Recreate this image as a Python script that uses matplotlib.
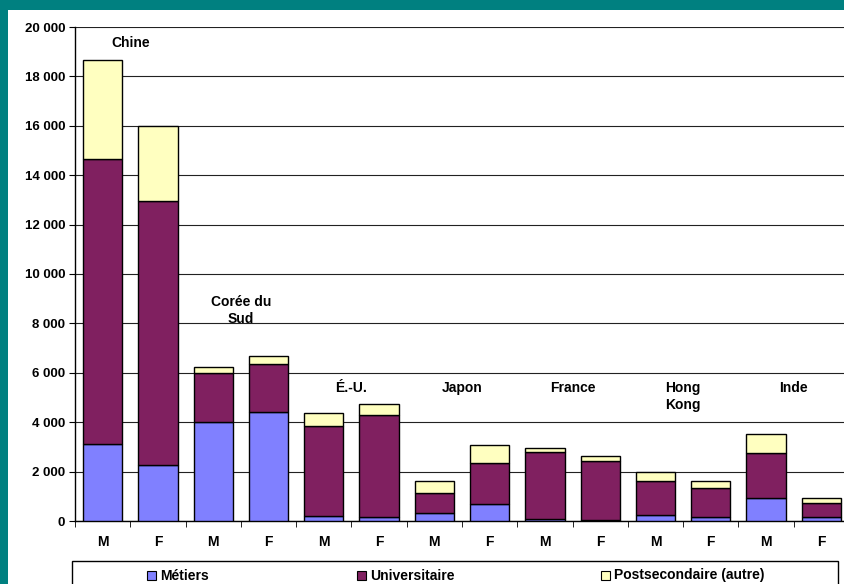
import matplotlib
matplotlib.use('Agg')
import matplotlib.pyplot as plt
from matplotlib import ticker
from matplotlib.patches import Rectangle
import numpy as np

plt.rcParams['font.family'] = ['Liberation Sans', 'DejaVu Sans']
plt.rcParams['font.weight'] = 'bold'

# M / F pour chaque pays
sexes = ['M', 'F'] * 7
pays = ['Chine', 'Corée du\nSud', 'É.-U.', 'Japon', 'France', 'Hong\nKong', 'Inde']

metiers = [3100, 2280, 4000, 4400, 215, 160, 310, 675, 70, 40, 255, 160, 930, 175]
universitaire = [11550, 10670, 1980, 1960, 3635, 4130, 810, 1675, 2710, 2380, 1350, 1165, 1810, 565]
autre = [4000, 3050, 270, 320, 535, 435, 510, 740, 190, 200, 365, 305, 795, 190]

series = ['Métiers', 'Universitaire', 'Postsecondaire (autre)']
colors = ['#8080FF', '#802060', '#FFFFC0']

W, H = 845, 584
fig = plt.figure(figsize=(W / 100, H / 100), dpi=100)
fig.patch.set_facecolor('#008080')
fig.patches.append(Rectangle((8 / W, 0), 1, (H - 10) / H, transform=fig.transFigure,
                             facecolor='white', edgecolor='none', zorder=-5))

ax = fig.add_axes([75 / W, (H - 521) / H, (849 - 75) / W, (521 - 27) / H])
ax.set_facecolor('none')
ax.set_zorder(2)

x = np.arange(len(sexes))
bw = 0.71
b1 = np.array(metiers)
b2 = b1 + np.array(universitaire)
ax.bar(x, metiers, bw, color=colors[0], edgecolor='black', linewidth=1, zorder=3)
ax.bar(x, universitaire, bw, bottom=b1, color=colors[1], edgecolor='black', linewidth=1, zorder=3)
ax.bar(x, autre, bw, bottom=b2, color=colors[2], edgecolor='black', linewidth=1, zorder=3)

ax.set_xlim(-0.5, 13.5)
ax.set_ylim(0, 20000)
ax.set_yticks(np.arange(0, 20001, 2000))
ax.yaxis.set_major_formatter(ticker.FuncFormatter(lambda v, p: f'{int(v):,}'.replace(',', ' ')))
ax.yaxis.grid(True, color='#222222', linewidth=0.8, zorder=1)
ax.set_xticks(x)
ax.set_xticklabels(sexes)
ax.set_xticks(np.arange(-0.5, 14, 1), minor=True)
ax.tick_params(axis='x', which='major', length=0, pad=10, labelsize=10)
ax.tick_params(axis='x', which='minor', length=4, direction='out')
ax.tick_params(axis='y', length=4, direction='out', labelsize=9.5, pad=3)
for s in ['top', 'right']:
    ax.spines[s].set_visible(False)
ax.spines['left'].set_linewidth(1)
ax.spines['bottom'].set_linewidth(1)

# noms des pays
label_y = [19650, 9150, 5680, 5680, 5680, 5680, 5680]
for i, (p, ly) in enumerate(zip(pays, label_y)):
    ax.text(2 * i + 0.5, ly, p, ha='center', va='top', fontsize=10,
            fontweight='bold', linespacing=1.3)

# légende
fig.patches.append(Rectangle((72 / W, -20 / H), (838 - 72) / W, (H - 561 + 20) / H,
                             transform=fig.transFigure, fill=False,
                             edgecolor='black', linewidth=1))
leg_x = [147, 357, 601]
for lx, name, c in zip(leg_x, series, colors):
    fig.patches.append(Rectangle((lx / W, (H - 580) / H), 9 / W, 9 / H,
                                 transform=fig.transFigure, facecolor=c,
                                 edgecolor='black', linewidth=0.8))
    fig.text((lx + 13) / W, (H - 575.5) / H, name, ha='left', va='center',
             fontsize=10, fontweight='bold')

fig.savefig('out.png', dpi=100, facecolor=fig.get_facecolor())
